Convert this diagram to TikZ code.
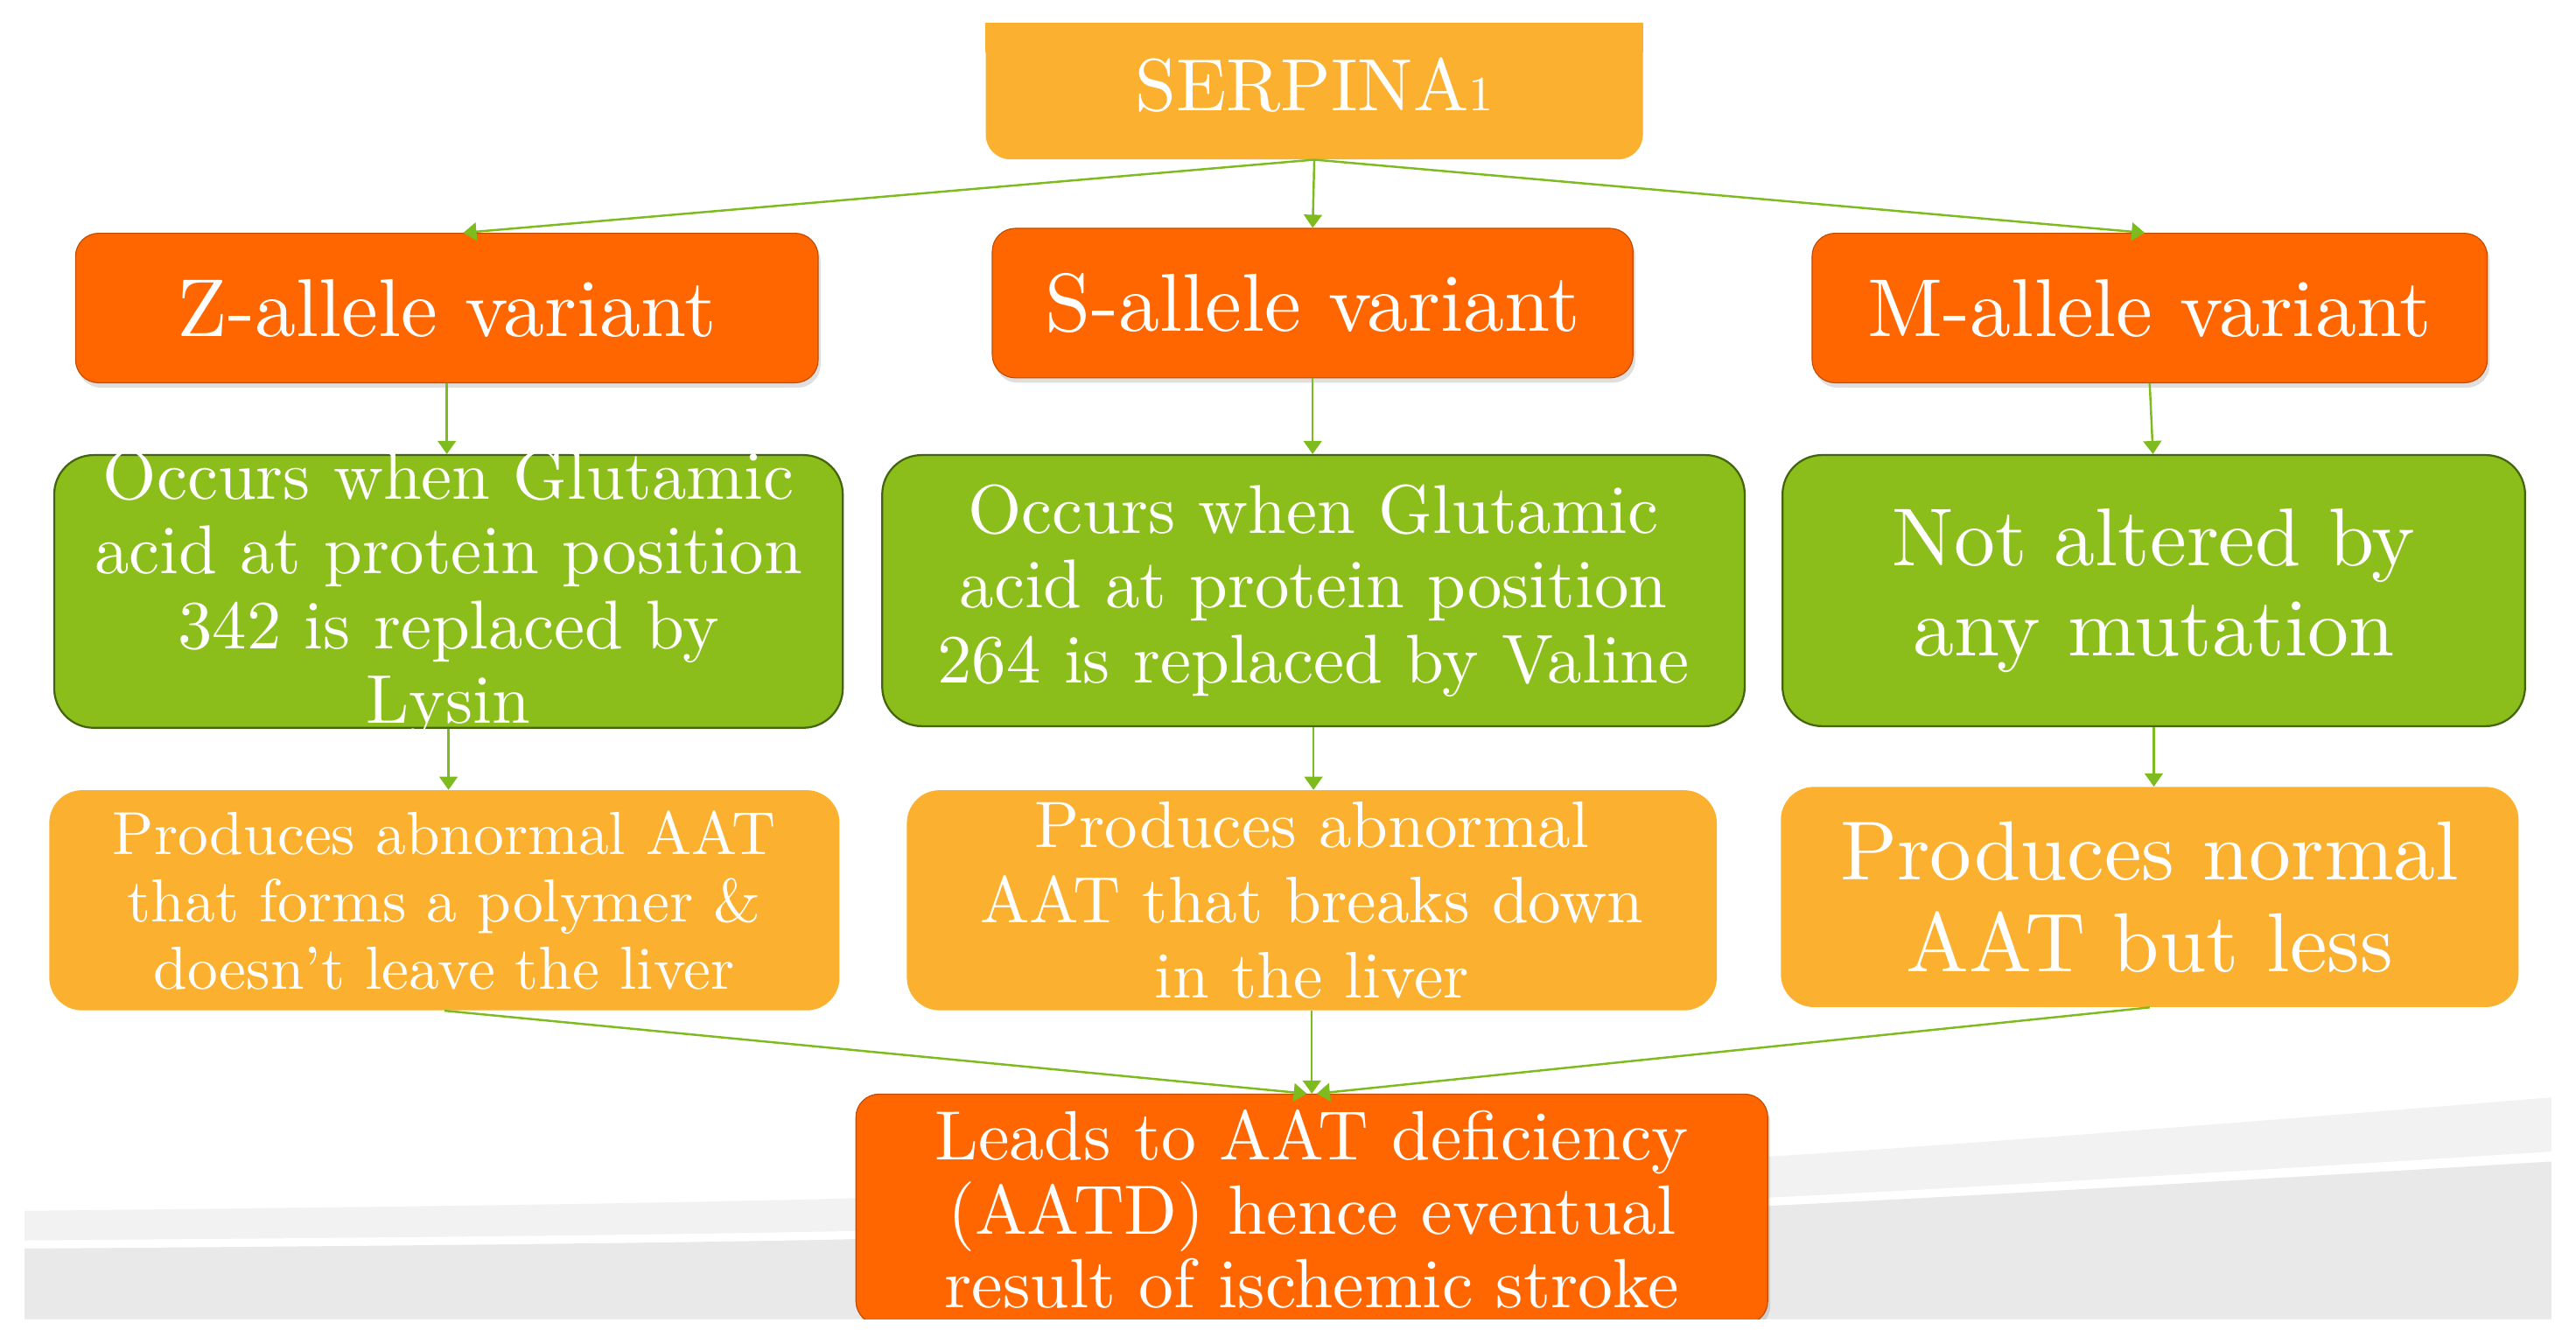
\documentclass[tikz,border=0pt]{standalone}
\usepackage{fontspec}
\setmainfont{lmroman10-regular.otf}
\usetikzlibrary{arrows.meta,shadows}
\definecolor{orng}{HTML}{FF6600}
\definecolor{yel}{HTML}{FBB030}
\definecolor{grn}{HTML}{8BBE1B}
\definecolor{grnd}{HTML}{44650E}
\definecolor{arr}{HTML}{7DBB1E}
\definecolor{lg}{HTML}{F2F2F2}
\definecolor{dg}{HTML}{E9E9E9}
\begin{document}
\begin{tikzpicture}[x=1pt,y=-1pt,
  box/.style={rectangle, inner sep=0pt, align=center, text=white},
  obox/.style={box, fill=orng, draw=orng!75!black, line width=0.6pt, rounded corners=14pt,
     drop shadow={shadow xshift=1.5pt, shadow yshift=-3pt, opacity=0.25}},
  gbox/.style={box, fill=grn, draw=grnd, line width=1.2pt, rounded corners=24pt},
  ybox/.style={box, fill=yel, rounded corners=20pt},
  txt/.style={inner sep=0pt, align=center, text=white},
  con/.style={draw=arr, line width=1.3pt, -{Triangle[length=8pt,width=11pt]}}]
\useasboundingbox (0,0) rectangle (1568,818);
\fill[white] (0,0) rectangle (1568,818);
\begin{scope}
\clip (0,14) rectangle (1568,803);
% background swoosh
\fill[lg] plot[smooth] coordinates {(15,737) (532,729) (1076,704) (1553,668)} -- (1553,803) -- (15,803) -- cycle;
\fill[white] plot[smooth] coordinates {(15,755) (532,749) (1076,729) (1553,701)} -- (1553,803) -- (15,803) -- cycle;
\fill[dg] plot[smooth] coordinates {(15,760) (532,754) (1076,734) (1553,707)} -- (1553,803) -- (15,803) -- cycle;

% top box
\node[ybox, minimum width=400pt, minimum height=90pt, rounded corners=15pt,
      font={\fontsize{45}{50}\selectfont}] (serp) at (800,52) {SERPINA{\fontsize{30}{30}\selectfont 1}};
\fill[yel] (serp.north west) rectangle ([yshift=-25pt]serp.north east);

% allele variants
\node[obox, minimum width=452pt, minimum height=91pt, font={\fontsize{50}{55}\selectfont}] (z) at (272,187.5) {Z-allele variant};
\node[obox, minimum width=390pt, minimum height=91pt, font={\fontsize{50}{55}\selectfont}] (s) at (799,184.5) {S-allele variant};
\node[obox, minimum width=411pt, minimum height=91pt, font={\fontsize{50}{55}\selectfont}] (m) at (1308.5,187.5) {M-allele variant};

% green boxes
\node[gbox, minimum width=480pt, minimum height=166pt] (gz) at (273,360) {};
\node[txt, font={\fontsize{42}{45.5}\selectfont}] (gzt) at (273,361.5) {Occurs when Glutamic\\acid at protein position\\342 is replaced by\\Lysin};
\node[gbox, minimum width=525pt, minimum height=165pt, font={\fontsize{42}{45.5}\selectfont}] (gs) at (799.5,359.5) {Occurs when Glutamic\\acid at protein position\\264 is replaced by Valine};
\node[gbox, minimum width=452pt, minimum height=165pt, font={\fontsize{50}{55}\selectfont}] (gm) at (1311,359.5) {Not altered by\\any mutation};

% yellow boxes
\node[ybox, minimum width=481pt, minimum height=134pt, font={\fontsize{37}{41}\selectfont}] (yz) at (270.5,548) {Produces abnormal AAT\\that forms a polymer \&\\doesn’t leave the liver};
\node[ybox, minimum width=493pt, minimum height=134pt, font={\fontsize{40}{46}\selectfont}] (ys) at (798.5,548) {Produces abnormal\\AAT that breaks down\\in the liver};
\node[ybox, minimum width=449pt, minimum height=134pt, font={\fontsize{51}{56}\selectfont}] (ym) at (1308.5,546) {Produces normal\\AAT but less};

% bottom box
\node[obox, minimum width=555pt, minimum height=140pt, font={\fontsize{42.5}{45}\selectfont}] (bot) at (798.5,736) {Leads to AAT deficiency\\(AATD) hence eventual\\result of ischemic stroke};

% connectors
\draw[con] (serp.south) -- ([xshift=10pt]z.north);
\draw[con] (serp.south) -- (s.north);
\draw[con] (serp.south) -- ([xshift=-3pt]m.north);
\draw[con] (z.south) -- (z.south |- gz.north);
\draw[con] (s.south) -- (s.south |- gs.north);
\draw[con] (m.south) -- ([xshift=2pt]m.south |- gm.north);
\draw[con] (gz.south) -- (gz.south |- yz.north);
\draw[con] (gs.south) -- (gs.south |- ys.north);
\draw[con] (gm.south) -- (gm.south |- ym.north);
\draw[con] (yz.south) -- ([xshift=-3pt]bot.north);
\draw[con] (ys.south) -- (bot.north);
\draw[con] (ym.south) -- ([xshift=3pt]bot.north);
\end{scope}
\end{tikzpicture}
\end{document}
